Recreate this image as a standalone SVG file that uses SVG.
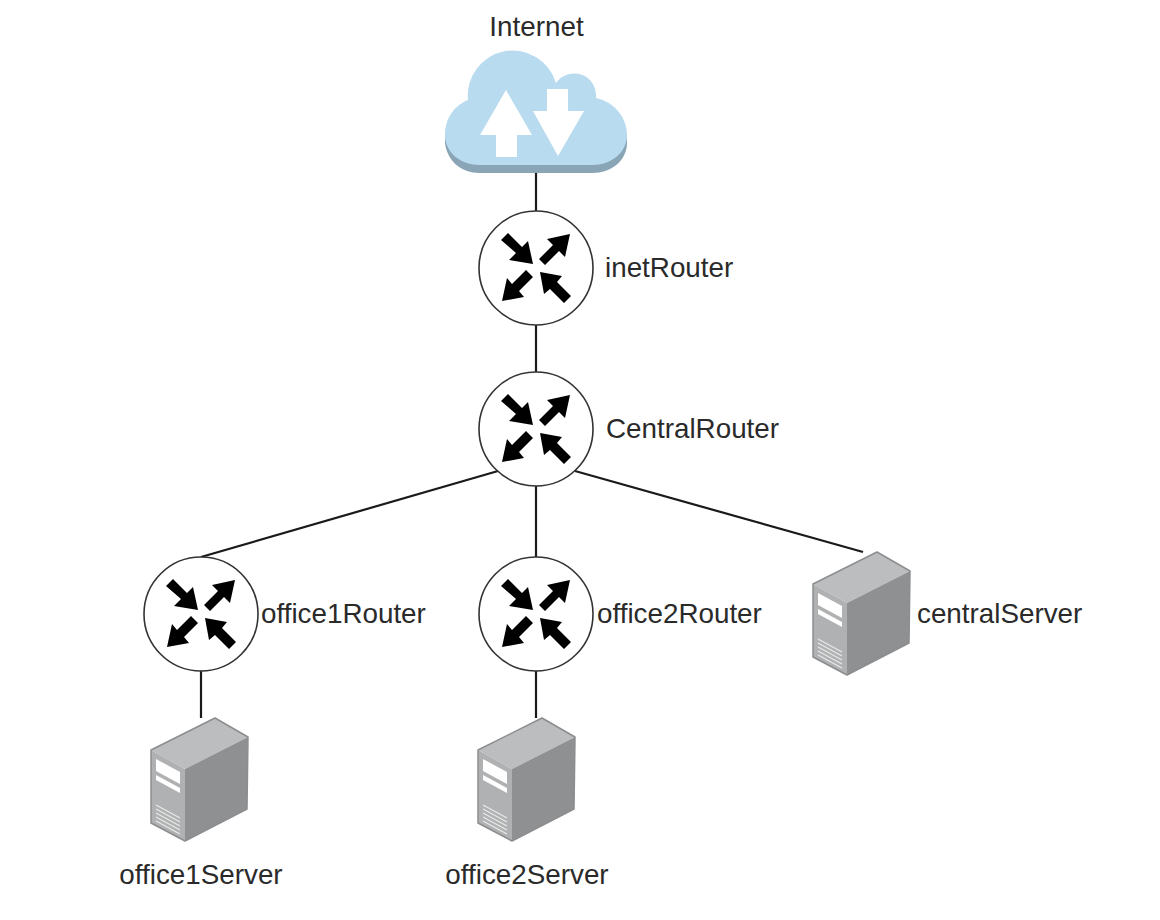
<svg xmlns="http://www.w3.org/2000/svg" width="1160" height="920" viewBox="0 0 1160 920">
<style>
text{font-family:"Liberation Sans",Arial,sans-serif;font-size:27.8px;fill:#2a2a2a}
.link{stroke:#1a1a1a;stroke-width:2.2;fill:none}
.ring{fill:#fff;stroke:#333;stroke-width:1.6}
.arr{fill:#000}
</style>
<defs>
<g id="router">
<circle class="ring" r="57"/>
<path class="arr" d="M-35-28L-28-35L-14-21L-8-27L-3-4L-27-8L-20-15Z"/>
<path class="arr" d="M3-9L9-3L23-17L29-11L34-34L11-29L17-23Z"/>
<path class="arr" d="M-10 2L-3 9L-17 23L-12 29L-34 33L-29 10L-24 16Z"/>
<path class="arr" d="M35 28L28 35L14 21L8 26L4 4L26 8L21 14Z"/>
</g>
<g id="server">
<path fill="#bcbdbe" d="M0 32L64 0L97 19L34 51Z"/>
<path fill="#b0b1b2" d="M0 32L34 51V123L0 105Z"/>
<path fill="#8f9092" d="M34 51L97 19L96 91L34 123Z"/>
<path fill="none" stroke="#8c8d8f" stroke-width="1.5" stroke-linejoin="round" d="M0 32L64 0L97 19L96 91L34 123L0 105Z"/>
<path fill="#fff" d="M5 41L29 54V66L5 53ZM5 57L29 70V75L5 62Z"/>
<path fill="none" stroke="#e8e8e8" stroke-width="1.3" d="M5 87L29 100M5 91L29 104M5 95L29 108M5 99L29 112M5 103L29 116"/>
</g>
</defs>
<rect width="1160" height="920" fill="#fff"/>
<g id="connectors">
<path class="link" d="M536 172V211"/>
<path class="link" d="M536 325V372"/>
<path class="link" d="M536 486V557"/>
<path class="link" d="M498 471L201 557"/>
<path class="link" d="M575 471L863 552"/>
<path class="link" d="M201 671V718"/>
<path class="link" d="M536 671V718"/>
</g>
<g id="internet">
<path fill="#8aa5b5" d="M445 135V143C447 160 460 173 480 173H592C612 173 627 160 627 143V135Z"/>
<path fill="#b9dbef" d="M468 100A45 45 0 0 1 556 83A22 22 0 0 1 596 98C615 102 627 118 627 135C627 152 612 165 592 165H480C460 165 445 152 445 135C445 118 455 105 468 100Z"/>
<path fill="#fff" d="M506 90L532 135H517V157H496V135H480Z"/>
<path fill="#fff" d="M547 89H568V111H584L558 156L533 111H547Z"/>
<text x="536.500" y="36" text-anchor="middle">Internet</text>
</g>
<g id="inetRouter"><use href="#router" x="536" y="268"/><text x="605" y="277">inetRouter</text></g>
<g id="CentralRouter"><use href="#router" x="536" y="429"/><text x="606" y="438">CentralRouter</text></g>
<g id="office1Router"><use href="#router" x="201" y="614"/><text x="261" y="623">office1Router</text></g>
<g id="office2Router"><use href="#router" x="536" y="614"/><text x="597" y="623">office2Router</text></g>
<g id="centralServer"><use href="#server" x="813" y="552"/><text x="917" y="623">centralServer</text></g>
<g id="office1Server"><use href="#server" x="151" y="718"/><text x="201" y="884" text-anchor="middle">office1Server</text></g>
<g id="office2Server"><use href="#server" x="478" y="718"/><text x="527" y="884" text-anchor="middle">office2Server</text></g>
</svg>
